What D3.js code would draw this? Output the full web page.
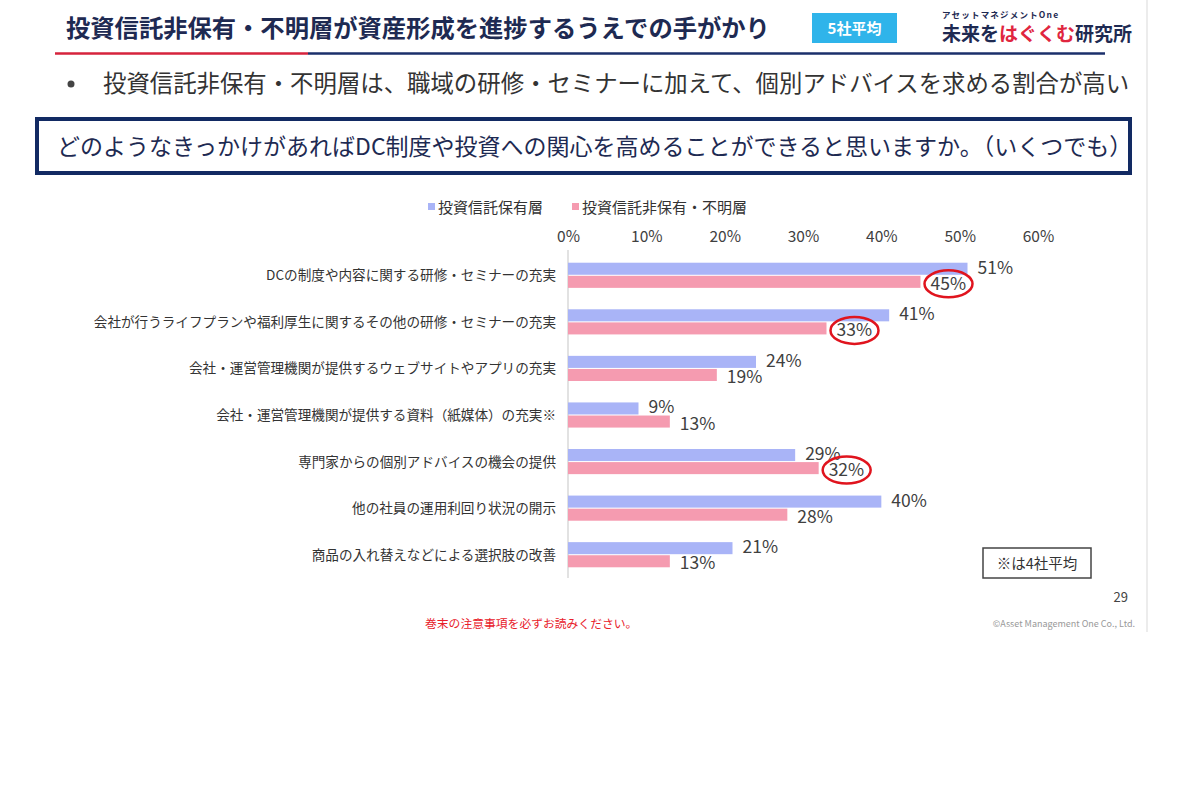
<!DOCTYPE html>
<html>
<head>
<meta charset="utf-8">
<script src="https://cdn.jsdelivr.net/npm/d3@7"></script>
<style>
  body { margin: 0; background: #fff; }
  svg { display: block; font-family: "Noto Sans CJK JP", "Noto Sans", sans-serif; }
</style>
</head>
<body>
<div id="chart"></div>
<script>
// datos del gráfico
var categories = [
  'DCの制度や内容に関する研修・セミナーの充実',
  '会社が行うライフプランや福利厚生に関するその他の研修・セミナーの充実',
  '会社・運営管理機関が提供するウェブサイトやアプリの充実',
  '会社・運営管理機関が提供する資料（紙媒体）の充実※',
  '専門家からの個別アドバイスの機会の提供',
  '他の社員の運用利回り状況の開示',
  '商品の入れ替えなどによる選択肢の改善'
];
var seriesNames = ['投資信託保有層', '投資信託非保有・不明層'];
var holders = [0.51, 0.41, 0.24, 0.09, 0.29, 0.40, 0.21];
var nonHolders = [0.45, 0.33, 0.19, 0.13, 0.32, 0.28, 0.13];
var circled = [0, 1, 4]; // etiquetas marcadas con círculo rojo (serie rosa)
var tickValues = [0, 0.1, 0.2, 0.3, 0.4, 0.5, 0.6];

var colors = ['#a9b4f7', '#f59bb0'];
var width = 1200, height = 800;

var svg = d3.select('#chart').append('svg')
  .attr('width', width)
  .attr('height', height);

// marco de la diapositiva (línea gris a la derecha)
svg.append('line')
  .attr('x1', 1147).attr('x2', 1147).attr('y1', 0).attr('y2', 632)
  .attr('stroke', '#ececec').attr('stroke-width', 2);

// ---- cabecera ----
svg.append('text')
  .attr('x', 66).attr('y', 37)
  .attr('font-size', 24.3).attr('font-weight', 700)
  .attr('fill', '#1e2a52')
  .text('投資信託非保有・不明層が資産形成を進捗するうえでの手がかり');

svg.append('line')
  .attr('x1', 55).attr('x2', 308).attr('y1', 53.5).attr('y2', 53.5)
  .attr('stroke', '#d6233c').attr('stroke-width', 2.5);
svg.append('line')
  .attr('x1', 308).attr('x2', 1105).attr('y1', 53.5).attr('y2', 53.5)
  .attr('stroke', '#1b2f6b').attr('stroke-width', 2.5);

svg.append('rect')
  .attr('x', 812).attr('y', 13).attr('width', 85).attr('height', 30)
  .attr('fill', '#2fb4ea');
svg.append('text')
  .attr('x', 854.5).attr('y', 34)
  .attr('text-anchor', 'middle')
  .attr('font-size', 15).attr('font-weight', 700)
  .attr('fill', '#fff')
  .text('5社平均');

svg.append('text')
  .attr('x', 942).attr('y', 18)
  .attr('font-size', 8.5).attr('font-weight', 700)
  .attr('letter-spacing', 1.2)
  .attr('fill', '#1e2a52')
  .text('アセットマネジメントOne');

var logo = svg.append('text')
  .attr('x', 942).attr('y', 41)
  .attr('font-size', 19).attr('font-weight', 700);
logo.append('tspan').attr('fill', '#1e2a52').text('未来を');
logo.append('tspan').attr('fill', '#e0263f').text('はぐくむ');
logo.append('tspan').attr('fill', '#1e2a52').text('研究所');

// viñeta
svg.append('circle')
  .attr('cx', 71).attr('cy', 84).attr('r', 3.5)
  .attr('fill', '#444');
svg.append('text')
  .attr('x', 103).attr('y', 92)
  .attr('font-size', 23.4).attr('fill', '#333')
  .text('投資信託非保有・不明層は、職域の研修・セミナーに加えて、個別アドバイスを求める割合が高い');

// pregunta en recuadro
svg.append('rect')
  .attr('x', 37).attr('y', 119).attr('width', 1093).attr('height', 54)
  .attr('fill', 'none').attr('stroke', '#122a63').attr('stroke-width', 4);
svg.append('text')
  .attr('x', 57).attr('y', 155)
  .attr('font-size', 23).attr('fill', '#1e2a52')
  .text('どのようなきっかけがあればDC制度や投資への関心を高めることができると思いますか。（いくつでも）');

// ---- leyenda ----
var legendX = [428, 572];
var legend = svg.append('g').selectAll('g')
  .data(seriesNames)
  .enter().append('g')
  .attr('transform', (d, i) => 'translate(' + legendX[i] + ',207)');
legend.append('rect')
  .attr('x', 0).attr('y', -4).attr('width', 7).attr('height', 7)
  .attr('fill', (d, i) => colors[i]);
legend.append('text')
  .attr('x', 10).attr('y', 5.5)
  .attr('font-size', 15).attr('fill', '#333')
  .text(d => d);

// ---- escalas ----
var x = d3.scaleLinear().domain([0, 0.6]).range([568, 1038]);
var y = d3.scaleBand().domain(categories).range([252, 578])
  .paddingInner(0.46).paddingOuter(0.23);
var ySub = d3.scaleBand().domain([0, 1]).range([0, y.bandwidth()]).paddingInner(0.08);

// eje superior
var axis = svg.append('g')
  .attr('transform', 'translate(0,242)')
  .call(d3.axisTop(x).tickValues(tickValues).tickSize(0).tickPadding(0).tickFormat(d3.format('.0%')));
axis.select('.domain').remove();
axis.selectAll('text')
  .attr('font-size', 15.5).attr('fill', '#404040')
  .attr('font-family', '"Noto Sans CJK JP", sans-serif');

// línea vertical del eje
svg.append('line')
  .attr('x1', x(0)).attr('x2', x(0)).attr('y1', 250).attr('y2', 578)
  .attr('stroke', '#d9d9d9').attr('stroke-width', 1.5);

// etiquetas de categoría
svg.append('g').selectAll('text')
  .data(categories)
  .enter().append('text')
  .attr('x', 556)
  .attr('y', d => y(d) + y.bandwidth() / 2 + 5)
  .attr('text-anchor', 'end')
  .attr('font-size', 13.6).attr('fill', '#333')
  .text(d => d);

// barras
var rows = categories.map((c, i) => ({ cat: c, i: i, vals: [holders[i], nonHolders[i]] }));

var rowG = svg.append('g').selectAll('g')
  .data(rows)
  .enter().append('g')
  .attr('transform', d => 'translate(0,' + y(d.cat) + ')');

rowG.selectAll('rect')
  .data(d => d.vals.map((v, s) => ({ v: v, s: s, i: d.i })))
  .enter().append('rect')
  .attr('x', x(0))
  .attr('y', d => ySub(d.s))
  .attr('width', d => x(d.v) - x(0))
  .attr('height', ySub.bandwidth())
  .attr('fill', d => colors[d.s]);

// etiquetas de valor
rowG.selectAll('text')
  .data(d => d.vals.map((v, s) => ({ v: v, s: s, i: d.i })))
  .enter().append('text')
  .attr('x', d => x(d.v) + 10)
  .attr('y', d => ySub(d.s) + ySub.bandwidth() / 2 + 5 + d.s * 3)
  .attr('font-size', 17.5).attr('fill', '#404040')
  .text(d => d3.format('.0%')(d.v));

// círculos rojos
svg.append('g').selectAll('ellipse')
  .data(circled)
  .enter().append('ellipse')
  .attr('cx', i => x(nonHolders[i]) + 10 + 18)
  .attr('cy', i => y(categories[i]) + ySub(1) + ySub.bandwidth() / 2 + 2)
  .attr('rx', 24).attr('ry', 13.5)
  .attr('fill', 'none').attr('stroke', '#e0141e').attr('stroke-width', 2.5);

// nota
svg.append('rect')
  .attr('x', 983).attr('y', 548).attr('width', 108).attr('height', 30)
  .attr('fill', '#fff').attr('stroke', '#444').attr('stroke-width', 1.5);
svg.append('text')
  .attr('x', 1037).attr('y', 569)
  .attr('text-anchor', 'middle')
  .attr('font-size', 14.5).attr('fill', '#333')
  .text('※は4社平均');

// pie de página
svg.append('text')
  .attr('x', 1128).attr('y', 602)
  .attr('text-anchor', 'end')
  .attr('font-size', 13).attr('fill', '#444')
  .text('29');
svg.append('text')
  .attr('x', 425).attr('y', 628)
  .attr('font-size', 11.8).attr('fill', '#e8202a')
  .text('巻末の注意事項を必ずお読みください。');
svg.append('text')
  .attr('x', 1135).attr('y', 627)
  .attr('text-anchor', 'end')
  .attr('font-size', 9).attr('fill', '#999')
  .text('©Asset Management One Co., Ltd.');
</script>
</body>
</html>
